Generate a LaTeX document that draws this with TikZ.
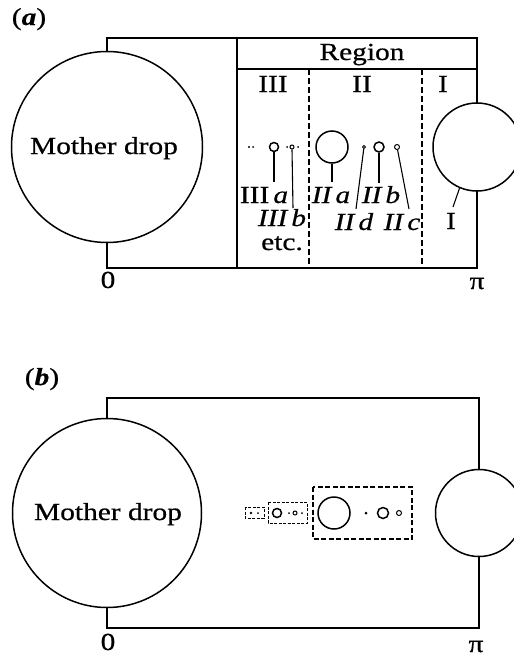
\documentclass[tikz,border=0pt]{standalone}
\usepackage{fontspec}
\setmainfont[FakeStretch=1.2,FakeBold=0.6]{Liberation Serif}
\begin{document}
\begin{tikzpicture}[x=1pt,y=-1pt,line width=1.5pt,
  lbl/.style={font=\fontsize{24.5}{28}\selectfont,inner sep=0pt,anchor=base},
  drop/.style={circle,draw,fill=white,inner sep=0pt,minimum size=#1},
  dot/.style={circle,fill,inner sep=0pt,minimum size=#1},
  regline/.style={dash pattern=on 6pt off 3pt,line width=1.2pt},
  boxline/.style={dash pattern=on 5pt off 2.5pt,line width=1.2pt},
  smallbox/.style={dash pattern=on 3pt off 1.5pt,line width=1pt}]
\useasboundingbox (0,0) rectangle (514,656);
\clip (0,0) rectangle (514,656);

% (a) regions
\node[lbl] (tagA) at (29,25) {(\textbf{\textit{a}})};
\draw (107,38) rectangle (477,268);
\draw (237,38) -- (237,268);
\draw (237,69) -- (477,69);
\draw[regline] (309,69) -- (309,268);
\draw[regline] (422,69) -- (422,268);
\node[drop=191pt] (motherA) at (107,147) {};
\node[drop=88pt] (satA) at (477,147) {};
\node[lbl] (motherAtxt) at (104,154) {Mother drop};
\node[lbl] (zeroA) at (108,288) {0};
\node[lbl] (piA) at (477,289) {π};
\node[lbl] (region) at (362,60) {Region};
\node[lbl] (regIII) at (273,92) {III};
\node[lbl] (regII) at (362,92) {II};
\node[lbl] (regI) at (443,92) {I};

% drops
\node[dot=2.4pt] (d1) at (249,147) {};
\node[dot=2pt] (d2) at (253,147) {};
\node[drop=9pt] (IIIa) at (274,147) {};
\node[dot=2pt] (d3) at (287,147) {};
\node[drop=4pt,line width=1pt] (IIIb) at (292,147) {};
\node[dot=2pt] (d4) at (298,147) {};
\node[drop=32pt] (IIa) at (332,147) {};
\node[drop=3pt,line width=1pt] (IId) at (364,147) {};
\node[drop=10pt] (IIb) at (379,147) {};
\node[drop=5pt,line width=1pt] (IIc) at (397,147) {};

% labels
\node[lbl] (IIIalbl) at (264,203) {III\,\textit{a}};
\node[lbl,text depth=0pt] (IIIblbl) at (282,226) {\textit{III\,b}};
\node[lbl,text height=1.5ex] (etc) at (282,250) {etc.};
\node[lbl] (IIalbl) at (331,203) {\textit{II\,a}};
\node[lbl] (IIblbl) at (381,203) {\textit{II\,b}};
\node[lbl] (IIdlbl) at (354,230) {\textit{II\,d}};
\node[lbl] (IIclbl) at (402,230) {\textit{II\,c}};
\node[lbl] (Ilbl) at (451,229) {I};

\draw[line width=1.1pt] (IIIa.south) -- (274,182);
\draw[line width=1.1pt] (IIIb.south) -- (293,208);
\draw[line width=1.1pt] (IIa.south) -- (332,182);
\draw[line width=1.1pt] (IIb.south) -- (379,183);
\coordinate (IIdend) at (356,209);
\coordinate (IIcend) at (409,209);
\coordinate (Iend) at (453,207);
\draw[line width=1.1pt] (IId) -- (IIdend);
\draw[line width=1.1pt] (IIc) -- (IIcend);
\draw[line width=1.1pt] (satA.247) -- (Iend);

% (b) nested boxes
\node[lbl] (tagB) at (42,385) {(\textbf{\textit{b}})};
\draw (107,398) rectangle (479,628);
\node[drop=189pt] (motherB) at (107,513) {};
\node[drop=87pt] (satB) at (479,513) {};
\node[lbl] (motherBtxt) at (108,520) {Mother drop};
\node[lbl] (zeroB) at (108,650) {0};
\node[lbl] (piB) at (476,652) {π};

\draw[boxline] (313,487) rectangle (412,539);
\draw[smallbox] (268,502) rectangle (307,523);
\draw[smallbox] (245,507) rectangle (264,518);
\node[drop=32pt] (bIIa) at (334,513) {};
\node[dot=3pt] (bIId) at (366,513) {};
\node[drop=11pt] (bIIb) at (383,513) {};
\node[drop=5pt,line width=1pt] (bIIc) at (399,513) {};
\node[drop=9pt] (bIIIa) at (277,513) {};
\node[dot=2pt] (b1) at (289,513) {};
\node[drop=4pt,line width=1pt] (bIIIb) at (295,513) {};
\node[dot=2pt] (b2) at (302,513) {};
\node[dot=2.8pt] (b3) at (251,513) {};
\node[dot=2pt] (b4) at (258,513) {};
\end{tikzpicture}
\end{document}
